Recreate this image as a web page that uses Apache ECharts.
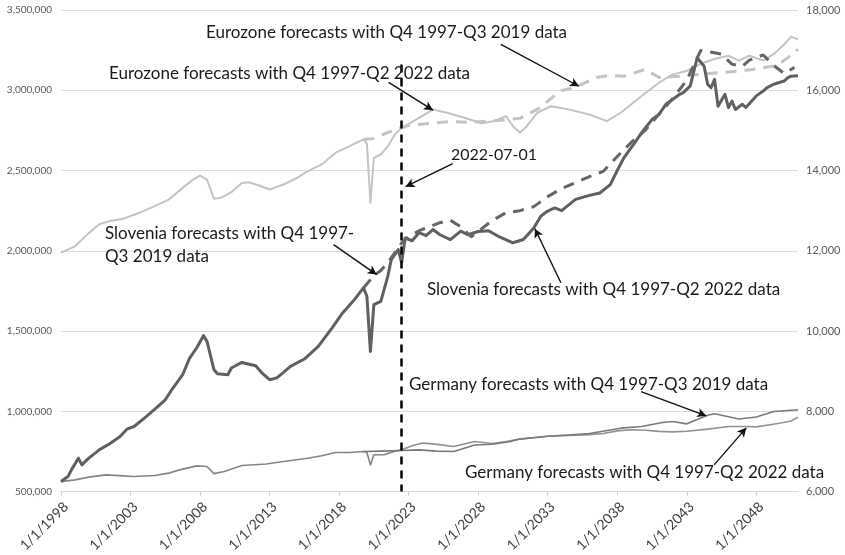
<!DOCTYPE html>
<html>
<head>
<meta charset="utf-8">
<script src="https://cdn.jsdelivr.net/npm/echarts@6/dist/echarts.min.js"></script>
<style>
  html, body { margin: 0; padding: 0; background: #ffffff; }
  #chart { width: 845px; height: 555px; }
</style>
</head>
<body>
<div id="chart"></div>
<script>
// Quarterly GDP levels and long-run forecasts (decimal years, 1998.0 = 1 Jan 1998)
const START_YEAR = 1998;
const END_OFFSET = 53;

// Eurozone (left axis)
const euroActualYears = [1998.0, 1999.0, 2000.0, 2000.75, 2001.5, 2002.5, 2003.5, 2004.75, 2005.75, 2006.75,
  2007.5, 2008.0, 2008.5, 2009.0, 2009.5, 2010.25, 2011.0, 2011.5, 2012.25, 2013.0, 2014.0, 2015.0, 2015.75,
  2016.75, 2017.75, 2018.75, 2019.75, 2020.0, 2020.25, 2020.5, 2020.75, 2021.0, 2021.5, 2022.0, 2022.5];
const euroActualValues = [1988000, 2028000, 2110000, 2165000, 2185000, 2200000, 2232000, 2278000, 2319000, 2392000,
  2444000, 2469000, 2444000, 2324000, 2330000, 2365000, 2423000, 2427000, 2407000, 2382000, 2413000, 2455000, 2496000,
  2538000, 2611000, 2652000, 2694000, 2668000, 2299000, 2579000, 2590000, 2600000, 2650000, 2725000, 2766000];

const euroFc2022Years = [2022.5, 2023.5, 2024.75, 2025.75, 2027.0, 2028.25, 2029.25, 2030.0, 2030.5, 2031.0,
  2031.5, 2032.25, 2033.25, 2034.5, 2036.0, 2037.25, 2038.25, 2039.75, 2041.0, 2042.0, 2043.0, 2044.0, 2045.0,
  2046.0, 2046.75, 2047.5, 2048.5, 2049.25, 2050.0, 2050.5, 2051.0];
const euroFc2022Values = [2766000, 2815000, 2880000, 2860000, 2829000, 2795000, 2810000, 2839000, 2776000, 2735000,
  2776000, 2860000, 2901000, 2881000, 2849000, 2808000, 2860000, 2964000, 3047000, 3099000, 3120000, 3165000, 3195000,
  3215000, 3185000, 3215000, 3185000, 3225000, 3285000, 3334000, 3318000];

const euroFc2019Years = [2019.75, 2020.5, 2021.5, 2023.0, 2024.5, 2026.0, 2027.5, 2029.5, 2031.0, 2032.5, 2033.5,
  2034.0, 2035.0, 2035.5, 2036.5, 2037.5, 2038.5, 2040.0, 2041.0, 2042.5, 2044.0, 2045.5, 2047.0, 2048.5, 2049.5,
  2050.3, 2051.0];
const euroFc2019Values = [2694000, 2700000, 2737000, 2781000, 2793000, 2806000, 2800000, 2812000, 2825000, 2893000, 2968000,
  2999000, 3018000, 3040000, 3080000, 3093000, 3087000, 3130000, 3080000, 3087000, 3099000, 3111000, 3121000, 3140000, 3155000,
  3205000, 3255000];

// Slovenia (right axis)
const sloActualYears = [1998.0, 1998.5, 1998.75, 1999.25, 1999.5, 2000.0, 2000.75, 2001.5, 2002.25, 2002.75, 2003.25,
  2004.0, 2004.75, 2005.5, 2006.0, 2006.75, 2007.25, 2007.75, 2008.25, 2008.5, 2009.0, 2009.25, 2010.0, 2010.25,
  2011.0, 2012.0, 2012.5, 2013.0, 2013.5, 2014.0, 2014.5, 2015.5, 2016.5, 2017.5, 2018.25, 2019.0, 2019.75, 2020.0,
  2020.25, 2020.5, 2021.0, 2021.5, 2021.75, 2022.25, 2022.5];
const sloActualValues = [6250, 6374, 6541, 6833, 6666, 6833, 7040, 7190, 7372, 7557, 7622,
  7831, 8056, 8288, 8555, 8912, 9328, 9578, 9885, 9743, 9036, 8937, 8912, 9079,
  9218, 9136, 8937, 8787, 8829, 8969, 9119, 9303, 9618, 10077, 10451, 10741, 11075, 10866,
  9493, 10658, 10741, 11364, 11781, 12030, 11700];

const sloFc2022Years = [2022.5, 2022.75, 2023.25, 2023.75, 2024.25, 2024.75, 2025.25, 2026.0, 2026.75, 2027.25,
  2028.0, 2028.75, 2029.5, 2030.5, 2031.25, 2032.0, 2032.5, 2033.0, 2033.5, 2034.0, 2035.0, 2036.0, 2036.75,
  2037.5, 2038.0, 2038.5, 2039.25, 2039.75, 2040.5, 2041.0, 2041.5, 2042.5, 2042.75, 2043.25, 2043.75, 2044.25,
  2044.5, 2044.75, 2045.0, 2045.25, 2045.75, 2046.0, 2046.25, 2046.5, 2047.0, 2047.25, 2048.0, 2048.5, 2048.75,
  2049.25, 2050.0, 2050.25, 2050.5, 2051.0];
const sloFc2022Values = [11700, 12320, 12250, 12450, 12380, 12530, 12400, 12280, 12490, 12400,
  12480, 12500, 12350, 12200, 12280, 12570, 12860, 12990, 13070, 13000, 13280, 13380, 13440,
  13650, 14000, 14330, 14690, 14940, 15270, 15400, 15650, 15900, 15940, 16110, 16810, 16600,
  16150, 16065, 16270, 15600, 15900, 15570, 15730, 15520, 15650, 15570, 15860, 15980, 16060,
  16150, 16230, 16310, 16350, 16360];

const sloFc2019Years = [2019.75, 2020.5, 2021.0, 2021.5, 2022.0, 2022.5, 2023.0, 2023.75, 2024.5, 2025.25, 2026.0,
  2026.75, 2027.5, 2028.25, 2029.0, 2030.0, 2031.0, 2032.0, 2033.0, 2034.0, 2035.0, 2036.0, 2037.0, 2038.0, 2039.0,
  2040.0, 2041.0, 2042.0, 2043.0, 2044.0, 2044.6, 2045.5, 2046.25, 2047.0, 2047.5, 2048.5, 2049.25, 2050.0, 2050.75];
const sloFc2019Values = [11075, 11380, 11510, 11700, 11950, 12200, 12350, 12500, 12600, 12700, 12760,
  12600, 12350, 12550, 12750, 12950, 13000, 13100, 13350, 13550, 13700, 13850, 13980, 14350, 14700,
  15000, 15400, 15800, 16250, 16990, 16960, 16900, 16650, 16600, 16750, 16880, 16620, 16420, 16570];

// Germany (left axis)
const deActualYears = [1998.0, 1999.0, 2000.0, 2001.25, 2002.5, 2003.25, 2004.75, 2005.75, 2006.75, 2007.75, 2008.5,
  2009.0, 2009.75, 2011.0, 2012.75, 2014.25, 2015.75, 2016.75, 2017.75, 2018.75, 2019.75, 2020.0, 2020.25, 2020.5,
  2021.25, 2022.0, 2022.5];
const deActualValues = [562000, 573000, 590000, 604000, 598000, 594000, 600000, 615000, 640000, 660000, 656000,
  612000, 625000, 662000, 672000, 691000, 708000, 723000, 743000, 743000, 750000, 745000, 666000, 729000,
  729000, 752000, 760000];

const deFc2022Years = [2022.5, 2023.25, 2024.0, 2024.75, 2026.25, 2027.75, 2029.0, 2030.0, 2031.0, 2033.0, 2034.5,
  2036.0, 2037.0, 2038.0, 2039.0, 2040.0, 2041.0, 2042.0, 2043.0, 2044.5, 2046.0, 2047.25, 2048.0, 2049.0, 2049.75,
  2050.5, 2051.0];
const deFc2022Values = [760000, 785000, 802000, 797000, 781000, 812000, 800000, 812000, 828000, 845000, 850000,
  855000, 862000, 878000, 885000, 882000, 875000, 872000, 876000, 889000, 905000, 905000, 903000, 916000, 927000,
  940000, 964000];

const deFc2019Years = [2019.75, 2021.0, 2022.5, 2023.75, 2025.0, 2026.25, 2027.75, 2029.0, 2030.25, 2031.0, 2033.0,
  2034.5, 2036.0, 2038.25, 2039.75, 2041.25, 2042.0, 2043.0, 2044.5, 2045.0, 2046.75, 2048.0, 2049.25, 2051.0];
const deFc2019Values = [750000, 752000, 756000, 760000, 752000, 750000, 790000, 795000, 810000, 827000, 845000,
  852000, 862000, 895000, 905000, 930000, 937000, 922000, 975000, 985000, 952000, 965000, 999000, 1010000];

// Axis ranges
const leftAxisRange = [500000, 3500000, 500000];
const rightAxisRange = [6000, 18000, 2000];

// Reference date and annotation arrows ([year, value] tail -> head)
const cutoffYear = 2022.5;
const cutoffTopValue = 3161000;
const euroArrows = [
  [[2029.63, 3286000], [2035.25, 3025000]],
  [[2021.56, 3049000], [2024.75, 2876000]],
  [[2026.17, 2543000], [2022.78, 2399000]]
];
const germanyArrows = [
  [[2039.71, 1123000], [2044.4, 972000]],
  [[2044.97, 666500], [2047.28, 897000]]
];
const sloArrows = [
  [[2017.6, 12155], [2020.7, 11407]],
  [[2033.95, 11203], [2032.08, 12550]]
];

const toPoints = (years, values) => years.map((y, i) => [y - START_YEAR, values[i]]);
const fmtThousands = v => String(v).replace(/\B(?=(\d{3})+(?!\d))/g, ',');

const FONT = 'Lato, "Open Sans", sans-serif';
const EURO_COLOR = '#c4c4c4';
const SLO_COLOR = '#606060';
const DE_COLOR = '#858585';

function arrowItems(list) {
  return list.map(([tail, head]) => [
    { coord: [tail[0] - START_YEAR, tail[1]], symbol: 'none' },
    { coord: [head[0] - START_YEAR, head[1]], symbol: 'arrow' }
  ]);
}

function lineSeries(name, pts, color, width, yAxisIndex, dashed, z) {
  return {
    name, type: 'line', data: pts, yAxisIndex, showSymbol: false, symbol: 'none',
    smooth: false, z: z,
    lineStyle: { color, width, type: dashed ? [11, 8] : 'solid', cap: 'butt', join: 'round' },
    emphasis: { disabled: true }
  };
}

const arrowMarkLine = (items) => ({
  silent: true,
  animation: false,
  symbolSize: [7, 9],
  label: { show: false },
  lineStyle: { color: '#111', width: 1.4, type: 'solid' },
  emphasis: { disabled: true },
  data: items
});

const series = [
  lineSeries('Germany', toPoints(deActualYears, deActualValues), DE_COLOR, 1.6, 0, false, 3),
  lineSeries('Germany forecasts with Q4 1997-Q2 2022 data', toPoints(deFc2022Years, deFc2022Values), '#929292', 1.6, 0, false, 3),
  lineSeries('Germany forecasts with Q4 1997-Q3 2019 data', toPoints(deFc2019Years, deFc2019Values), '#7a7a7a', 1.6, 0, false, 3),
  lineSeries('Eurozone', toPoints(euroActualYears, euroActualValues), EURO_COLOR, 2, 0, false, 2),
  lineSeries('Eurozone forecasts with Q4 1997-Q2 2022 data', toPoints(euroFc2022Years, euroFc2022Values), EURO_COLOR, 2, 0, false, 2),
  lineSeries('Eurozone forecasts with Q4 1997-Q3 2019 data', toPoints(euroFc2019Years, euroFc2019Values), EURO_COLOR, 3, 0, true, 2),
  lineSeries('Slovenia', toPoints(sloActualYears, sloActualValues), SLO_COLOR, 3, 1, false, 4),
  lineSeries('Slovenia forecasts with Q4 1997-Q2 2022 data', toPoints(sloFc2022Years, sloFc2022Values), SLO_COLOR, 3, 1, false, 4),
  lineSeries('Slovenia forecasts with Q4 1997-Q3 2019 data', toPoints(sloFc2019Years, sloFc2019Values), '#666666', 3, 1, true, 4)
];

// Cut-off line and arrows on the left-axis series
const cutoffItem = [
  { coord: [cutoffYear - START_YEAR, cutoffTopValue], symbol: 'none',
    lineStyle: { color: '#000', width: 2.5, type: [8, 6] } },
  { coord: [cutoffYear - START_YEAR, leftAxisRange[0]], symbol: 'none' }
];
series[3].markLine = arrowMarkLine([cutoffItem].concat(arrowItems(euroArrows)));
series[0].markLine = arrowMarkLine(arrowItems(germanyArrows));
series[6].markLine = arrowMarkLine(arrowItems(sloArrows));

// Annotation texts
const notes = [
  { text: 'Eurozone forecasts with Q4 1997-Q3 2019 data', x: 206, y: 35, size: 17 },
  { text: 'Eurozone forecasts with Q4 1997-Q2 2022 data', x: 109, y: 76, size: 17 },
  { text: '2022-07-01', x: 451, y: 157, size: 16 },
  { text: 'Slovenia forecasts with Q4 1997-', x: 105, y: 236, size: 17 },
  { text: 'Q3 2019 data', x: 105, y: 259, size: 17 },
  { text: 'Slovenia forecasts with Q4 1997-Q2 2022 data', x: 427, y: 292, size: 17 },
  { text: 'Germany forecasts with Q4 1997-Q3 2019 data', x: 409, y: 387, size: 17 },
  { text: 'Germany forecasts with Q4 1997-Q2 2022 data', x: 465, y: 475, size: 17 }
];

const chart = echarts.init(document.getElementById('chart'), null, { renderer: 'canvas' });
chart.setOption({
  animation: false,
  backgroundColor: '#ffffff',
  textStyle: { fontFamily: FONT },
  grid: { left: 61, right: 47, top: 10, bottom: 63, containLabel: false },
  xAxis: {
    type: 'value',
    min: 0, max: END_OFFSET, interval: 5,
    axisLine: { show: true, lineStyle: { color: '#d9d9d9', width: 1 } },
    axisTick: { show: true, length: 4, lineStyle: { color: '#cfcfcf' } },
    splitLine: { show: false },
    axisLabel: {
      rotate: 45, margin: 8, color: '#404040', fontSize: 14, fontFamily: FONT,
      align: 'right', verticalAlign: 'top',
      showMaxLabel: false,
      formatter: v => (v % 5 === 0 ? '1/1/' + (START_YEAR + v) : '')
    }
  },
  yAxis: [
    {
      type: 'value', position: 'left',
      min: leftAxisRange[0], max: leftAxisRange[1], interval: leftAxisRange[2],
      axisLine: { show: false }, axisTick: { show: false },
      splitLine: { show: true, lineStyle: { color: '#dcdcdc', width: 1 } },
      axisLabel: { color: '#595959', fontSize: 10, margin: 9, fontFamily: FONT, formatter: fmtThousands }
    },
    {
      type: 'value', position: 'right',
      min: rightAxisRange[0], max: rightAxisRange[1], interval: rightAxisRange[2],
      axisLine: { show: false }, axisTick: { show: false },
      splitLine: { show: false },
      axisLabel: { color: '#595959', fontSize: 11, margin: 8, fontFamily: FONT, formatter: fmtThousands }
    }
  ],
  series: series,
  graphic: notes.map(n => ({
    type: 'text', left: n.x, top: n.y - Math.round(n.size * 0.62), silent: true, z: 100,
    style: { text: n.text, font: n.size + 'px ' + FONT, fill: '#1a1a1a' }
  }))
});
</script>
</body>
</html>
